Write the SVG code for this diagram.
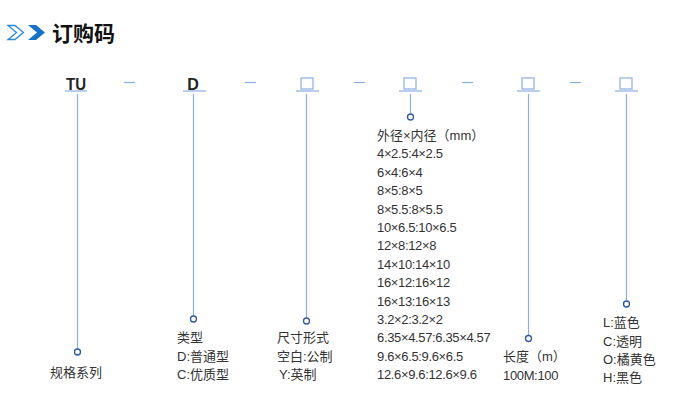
<svg xmlns="http://www.w3.org/2000/svg" width="691" height="402" viewBox="0 0 691 402">
<style>
.t{font-family:"Liberation Sans","Noto Sans CJK SC",sans-serif;font-size:13px;fill:#333}
.n{letter-spacing:-0.35px}
.code{font-family:"Liberation Sans","Noto Sans CJK SC",sans-serif;font-size:16px;font-weight:bold;fill:#222}
.ln{stroke:#8aaee0;stroke-width:1.2;fill:none}
.box{stroke:#8aaee0;stroke-width:1.2;fill:#fff}
.dot{stroke:#2f55a4;stroke-width:1.3;fill:#fff}
</style>
<rect width="691" height="402" fill="#fff"/>
<g id="header">
<polygon points="8,25.5 15,25.5 23.5,32.5 15,39.5 8,39.5 16.5,32.5" fill="#fff" stroke="#2a86d8" stroke-width="1.3" stroke-linejoin="miter"/>
<polygon points="28,25 36,25 45,32.5 36,40 28,40 37,32.5" fill="#1673c9"/>
<text x="52" y="40.5" style="font-family:'Noto Sans CJK SC',sans-serif;font-size:21px;font-weight:bold;fill:#111">订购码</text>
</g>
<g id="connectors">
<line class="ln" x1="124" y1="82.5" x2="135" y2="82.5"/>
<line class="ln" x1="245" y1="82.5" x2="256" y2="82.5"/>
<line class="ln" x1="354" y1="82.5" x2="365" y2="82.5"/>
<line class="ln" x1="462" y1="82.5" x2="473" y2="82.5"/>
<line class="ln" x1="570" y1="82.5" x2="581" y2="82.5"/>
<line class="ln" x1="77.5" y1="94" x2="77.5" y2="348.5"/>
<line class="ln" x1="193.5" y1="94" x2="193.5" y2="315.5"/>
<line class="ln" x1="306.5" y1="94" x2="306.5" y2="317.5"/>
<line class="ln" x1="410.5" y1="94" x2="410.5" y2="113.5"/>
<line class="ln" x1="528.5" y1="94" x2="528.5" y2="335"/>
<line class="ln" x1="626.5" y1="94" x2="626.5" y2="300.5"/>
</g>
<g id="node-tu">
<text class="code" x="76" y="89.5" text-anchor="middle" textLength="20" lengthAdjust="spacingAndGlyphs">TU</text>
<line class="ln" x1="65" y1="91" x2="87" y2="91"/>
<circle class="dot" cx="77.5" cy="352" r="3"/>
<text class="t" x="50" y="377">规格系列</text>
</g>
<g id="node-d">
<text class="code" x="193" y="89.5" text-anchor="middle">D</text>
<line class="ln" x1="183" y1="91" x2="206" y2="91"/>
<circle class="dot" cx="193.5" cy="319" r="3"/>
<text class="t" x="177" y="342">类型</text>
<text class="t" x="177" y="360.5">D:普通型</text>
<text class="t" x="177" y="379">C:优质型</text>
</g>
<g id="node-size">
<rect class="box" x="301" y="78" width="12" height="11"/>
<line class="ln" x1="296" y1="91" x2="319" y2="91"/>
<circle class="dot" cx="306.5" cy="321" r="3"/>
<text class="t" x="277" y="342">尺寸形式</text>
<text class="t" x="277" y="360.5">空白:公制</text>
<text class="t" x="279" y="379">Y:英制</text>
</g>
<g id="node-diameter">
<rect class="box" x="404" y="78" width="12" height="11"/>
<line class="ln" x1="399" y1="91" x2="422" y2="91"/>
<circle class="dot" cx="410.5" cy="117" r="3"/>
<text class="t" x="377" y="140">外径×内径（mm）</text>
<text class="t n" x="377" y="158.4">4×2.5:4×2.5</text>
<text class="t n" x="377" y="176.8">6×4:6×4</text>
<text class="t n" x="377" y="195.2">8×5:8×5</text>
<text class="t n" x="377" y="213.6">8×5.5:8×5.5</text>
<text class="t n" x="377" y="232">10×6.5:10×6.5</text>
<text class="t n" x="377" y="250.4">12×8:12×8</text>
<text class="t n" x="377" y="268.8">14×10:14×10</text>
<text class="t n" x="377" y="287.2">16×12:16×12</text>
<text class="t n" x="377" y="305.6">16×13:16×13</text>
<text class="t n" x="377" y="324">3.2×2:3.2×2</text>
<text class="t n" x="377" y="342.4">6.35×4.57:6.35×4.57</text>
<text class="t n" x="377" y="360.8">9.6×6.5:9.6×6.5</text>
<text class="t n" x="377" y="379.2">12.6×9.6:12.6×9.6</text>
</g>
<g id="node-length">
<rect class="box" x="522" y="78" width="12" height="11"/>
<line class="ln" x1="517" y1="91" x2="540" y2="91"/>
<circle class="dot" cx="528.5" cy="338.5" r="3"/>
<text class="t" x="503" y="360.5">长度（m）</text>
<text class="t n" x="503" y="379.5">100M:100</text>
</g>
<g id="node-color">
<rect class="box" x="620" y="78" width="12" height="11"/>
<line class="ln" x1="615" y1="91" x2="638" y2="91"/>
<circle class="dot" cx="626.5" cy="304" r="3"/>
<text class="t" x="603" y="327">L:蓝色</text>
<text class="t" x="603" y="345.5">C:透明</text>
<text class="t" x="603" y="364">O:橘黄色</text>
<text class="t" x="603" y="382">H:黑色</text>
</g>
</svg>
